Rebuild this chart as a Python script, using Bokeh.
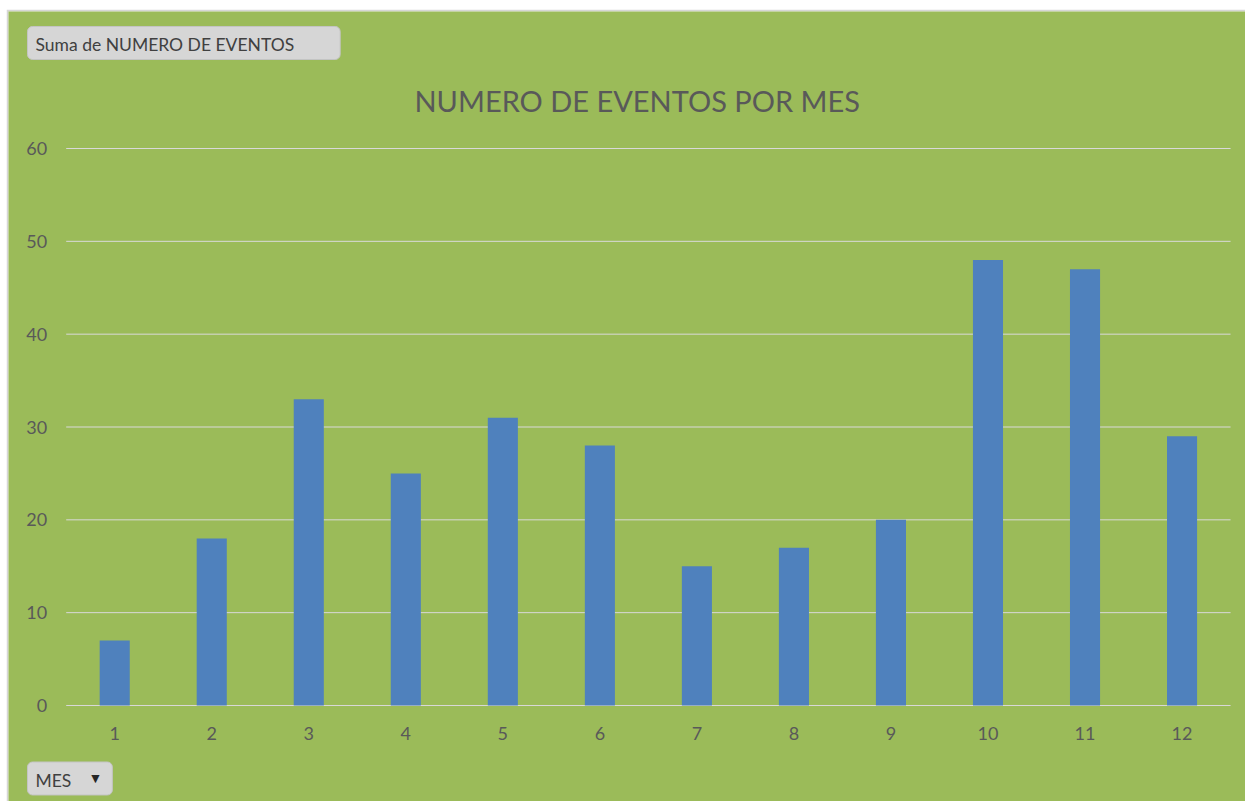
from bokeh.plotting import figure
from bokeh.models import Range1d, Label
from bokeh.core.properties import value
from bokeh.embed import file_html
from bokeh.resources import INLINE

# ---- data ----
months = [1, 2, 3, 4, 5, 6, 7, 8, 9, 10, 11, 12]
month_labels = ["1", "2", "3", "4", "5", "6", "7", "8", "9", "10", "11", "12"]
eventos = [7, 18, 33, 25, 31, 28, 15, 17, 20, 48, 47, 29]
y_ticks = [0, 10, 20, 30, 40, 50, 60]
y_tick_labels = ["0", "10", "20", "30", "40", "50", "60"]

title_text = "NUMERO DE EVENTOS POR MES"
field_button = "Suma de NUMERO DE EVENTOS"
axis_button = "MES"

GREEN = "#9BBB59"
BLUE = "#4F81BD"
TEXT = "#595959"
GRID = "#D9D9D9"
FONT = "Lato"

# scale: one month = 97.03 px, one event = 9.2833 px
PX_X = 97.03
PX_Y = 9.2833
LEFT = 57.7   # px from frame left edge to x=0.5

p = figure(width=1239, height=792, output_backend="svg", toolbar_location=None,
           x_axis_type=None, y_axis_type=None,
           x_range=Range1d(0.5 - LEFT / PX_X, 0.5 + (1237 - LEFT) / PX_X),
           y_range=Range1d(-96 / PX_Y, 60 + 137 / PX_Y),
           min_border_left=2, min_border_top=2, min_border_right=0,
           min_border_bottom=0)
p.margin = (9, 0, 0, 6)

p.background_fill_color = GREEN
p.border_fill_color = "#D6D6D6"
p.outline_line_color = None
p.xgrid.visible = False
p.ygrid.visible = False

# horizontal gridlines limited to the plot area
p.segment(x0=[0.5] * len(y_ticks), x1=[12.5] * len(y_ticks), y0=y_ticks,
          y1=y_ticks, line_color=GRID, line_width=1)

p.vbar(x=months, top=eventos, width=0.31, fill_color=BLUE, line_color=None)

# tick labels
p.text(x=[0.5 - 19 / PX_X] * len(y_ticks), y=y_ticks, text=y_tick_labels,
       text_align="right", text_baseline="middle", text_font=value(FONT),
       text_font_size="18px", text_color=TEXT)
p.text(x=months, y=[-28 / PX_Y] * len(months), text=month_labels,
       text_align="center", text_baseline="middle", text_font=value(FONT),
       text_font_size="18px", text_color=TEXT)

# title
p.add_layout(Label(x=0.5 + 571 / PX_X, y=605 / PX_Y, text=title_text,
                   text_align="center", text_baseline="middle", text_font=FONT,
                   text_font_size="29px", text_color=TEXT))

# pivot field buttons
p.add_layout(Label(x=0.5 - 38.7 / PX_X, y=662.5 / PX_Y, text=field_button,
                   text_align="left", text_baseline="middle", text_font=FONT,
                   text_font_size="17.5px", text_color="#404040",
                   background_fill_color="#D6D6D6", border_line_color="#C4C4C4",
                   padding=(8, 46, 8, 4), border_radius=5))
p.add_layout(Label(x=0.5 - 38.7 / PX_X, y=-73 / PX_Y, text=axis_button,
                   text_align="left", text_baseline="middle", text_font=FONT,
                   text_font_size="17.5px", text_color="#404040",
                   background_fill_color="#D6D6D6", border_line_color="#C4C4C4",
                   padding=(8, 41, 8, 4), border_radius=5))
p.add_layout(Label(x=0.5 + 29.3 / PX_X, y=-72.5 / PX_Y, text="\u25BC",
                   text_align="center", text_baseline="middle", text_font=FONT,
                   text_font_size="14px", text_color="#262626"))

open("out.html", "w").write(file_html(p, INLINE))
